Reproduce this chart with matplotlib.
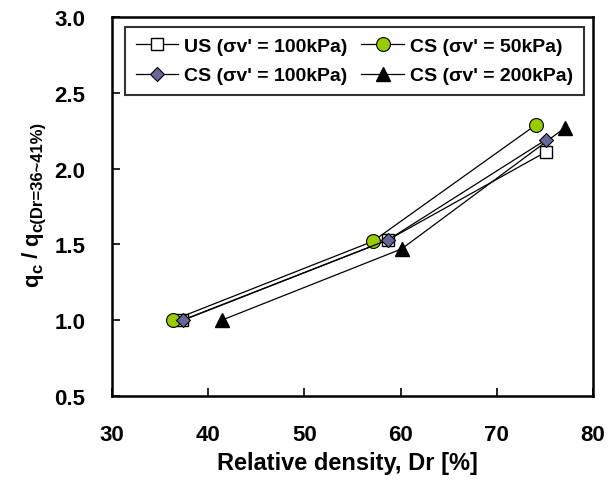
import numpy as np
import matplotlib
matplotlib.use('Agg')
import matplotlib.pyplot as plt

plt.rcParams['font.family'] = ['Liberation Sans', 'DejaVu Sans']
plt.rcParams['font.weight'] = 'bold'

# data
us100_x = [37.3, 58.7, 75.1]
us100_y = [1.0, 1.53, 2.11]
cs50_x = [36.3, 57.1, 74.1]
cs50_y = [1.0, 1.52, 2.29]
cs100_x = [37.4, 58.7, 75.1]
cs100_y = [1.0, 1.53, 2.19]
cs200_x = [41.4, 60.1, 77.1]
cs200_y = [1.0, 1.47, 2.27]

xticks = [30, 40, 50, 60, 70, 80]
yticks = [0.5, 1.0, 1.5, 2.0, 2.5, 3.0]

W, H = 613, 481
fig = plt.figure(figsize=(W / 100, H / 100), dpi=100)
ax = fig.add_axes([112 / W, 84 / H, 481 / W, 379 / H])

l_us, = ax.plot(us100_x, us100_y, color='black', lw=0.9, marker='s', ms=9,
                mfc='white', mec='black', mew=1.0, label="US (σv' = 100kPa)")
l_cs200, = ax.plot(cs200_x, cs200_y, color='black', lw=0.9, marker='^', ms=10,
                   mfc='black', mec='black', label="CS (σv' = 200kPa)")
l_cs50, = ax.plot(cs50_x, cs50_y, color='black', lw=0.9, marker='o', ms=10,
                  mfc='#99cc00', mec='black', mew=0.8, label="CS (σv' = 50kPa)")
l_cs100, = ax.plot(cs100_x, cs100_y, color='black', lw=0.9, marker='D', ms=7.5,
                   mfc='#666699', mec='black', mew=0.8, label="CS (σv' = 100kPa)")

ax.set_xlim(30, 80)
ax.set_ylim(0.5, 3.0)
ax.set_xticks(xticks)
ax.set_yticks(yticks)
ax.set_xticklabels([str(v) for v in xticks], fontsize=16, fontweight='bold')
ax.set_yticklabels(['%.1f' % v for v in yticks], fontsize=16, fontweight='bold')
ax.tick_params(direction='in', length=6, width=1.2)
ax.tick_params(axis='y', pad=19)
ax.tick_params(axis='x', pad=20)
for s in ax.spines.values():
    s.set_linewidth(1.8)

ax.set_xlabel('Relative density, Dr [%]', fontsize=17, fontweight='bold', labelpad=3)
ax.xaxis.set_label_coords(0.49, -0.145)

# y label: q_c / q_c(Dr=36~41%) built from pieces (rotated, reading bottom to top)
ylab_parts = [('q', 16, 38), ('c', 12, 42), (' / ', 16, 38), ('q', 16, 38),
              ('c(Dr=36~41%)', 12, 42)]
renderer = fig.canvas.get_renderer()
ypos = 287
for txt, size, xbase in ylab_parts:
    t = fig.text(xbase / W, 1 - ypos / H, txt, fontsize=size, fontweight='bold',
                 rotation=90, rotation_mode='anchor', ha='left', va='baseline')
    ypos -= t.get_window_extent(renderer).height

leg = ax.legend(handles=[l_us, l_cs100, l_cs50, l_cs200], ncol=2, loc='upper left',
                bbox_to_anchor=(0.027, 0.974), fontsize=14, frameon=True, fancybox=False,
                edgecolor='black', handlelength=2.2, handletextpad=0.3, columnspacing=0.7,
                borderpad=0.55, labelspacing=0.6, borderaxespad=0)
leg.get_frame().set_linewidth(1.5)
for t in leg.get_texts():
    t.set_fontweight('bold')

fig.savefig('out.png', dpi=100)
